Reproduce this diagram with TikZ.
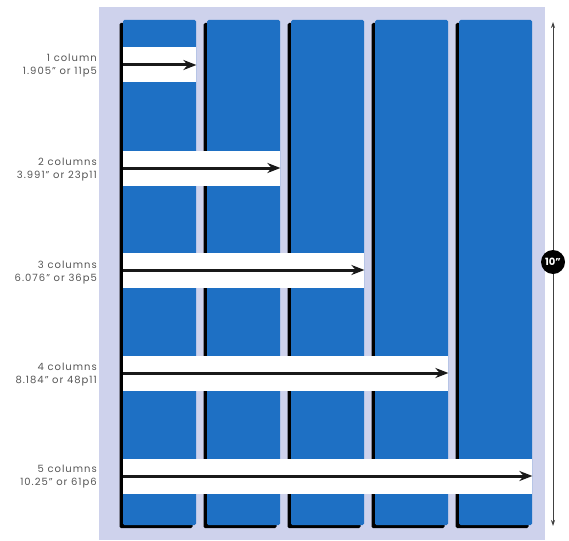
\documentclass[tikz,border=0pt]{standalone}
\usepackage{fontspec}
\setmainfont{Poppins}
\newfontfamily\lblfont[LetterSpace=10]{Poppins}
\usepackage{xcolor}
\usepackage{tikz}
\usetikzlibrary{arrows.meta,positioning,shadows}
\definecolor{cPage}{RGB}{206,210,236}
\definecolor{cCol}{RGB}{30,112,196}
\definecolor{cText}{RGB}{85,85,85}
\tikzset{
  colblk/.style={fill=cCol, minimum width=73pt, minimum height=505pt, inner sep=0pt,
                 rounded corners=1.5pt,
                 drop shadow={shadow xshift=-3.5pt, shadow yshift=-3pt, fill=black, opacity=1}},
  band/.style={fill=white, anchor=west, minimum height=35pt, inner sep=0pt},
  arr/.style={-{Stealth[length=13pt,width=10pt]}, line width=3pt, black!90},
  dim/.style={{Stealth[length=6pt,width=4pt]}-{Stealth[length=6pt,width=4pt]}, line width=0.8pt, black!75},
  lbl/.style={font=\lblfont\fontsize{10}{13}\selectfont, text=cText, align=right, anchor=east, inner sep=0pt},
  badge/.style={circle, fill=black, text=white, minimum size=24pt, inner sep=0pt,
                font=\fontsize{10}{11}\selectfont\bfseries},
}

\begin{document}
\begin{tikzpicture}[x=1pt,y=-1pt]
  \useasboundingbox (0,0) rectangle (569,540);
  % ---- page ----
  \fill[cPage] (99,7) rectangle (545,540);

  % ---- the five columns ----
  \node[colblk] (c1) at (159.5,272.5) {};
  \node[colblk] (c2) at (243.5,272.5) {};
  \node[colblk] (c3) at (327.5,272.5) {};
  \node[colblk] (c4) at (411.5,272.5) {};
  \node[colblk] (c5) at (495.5,272.5) {};

  % ---- spans ----
  \node[band, minimum width=73pt]  (b1) at (123,65) {};
  \node[band, minimum width=157pt] (b2) at (123,168) {};
  \node[band, minimum width=241pt] (b3) at (123,270) {};
  \node[band, minimum width=325pt] (b4) at (123,373) {};
  \node[band, minimum width=409pt] (b5) at (123,476) {};
  \draw[arr] (b1.west) -- (b1.east);
  \draw[arr] (b2.west) -- (b2.east);
  \draw[arr] (b3.west) -- (b3.east);
  \draw[arr] (b4.west) -- (b4.east);
  \draw[arr] (b5.west) -- (b5.east);

  % labels
  \node[lbl] (l1) at (97,66)  {1 column\\1.905” or 11p5};
  \node[lbl] (l2) at (97,170) {2 columns\\3.991” or 23p11};
  \node[lbl] (l3) at (97,273) {3 columns\\6.076” or 36p5};
  \node[lbl] (l4) at (97,375) {4 columns\\8.184” or 48p11};
  \node[lbl] (l5) at (97,477) {5 columns\\10.25” or 61p6};

  % ---- page height ----
  \coordinate (dtop) at (553,22);
  \coordinate (dbot) at (553,526);
  \draw[dim] (dtop) -- (dbot);
  \node[badge] (ten) at (553,262) {10”};
\end{tikzpicture}
\end{document}
